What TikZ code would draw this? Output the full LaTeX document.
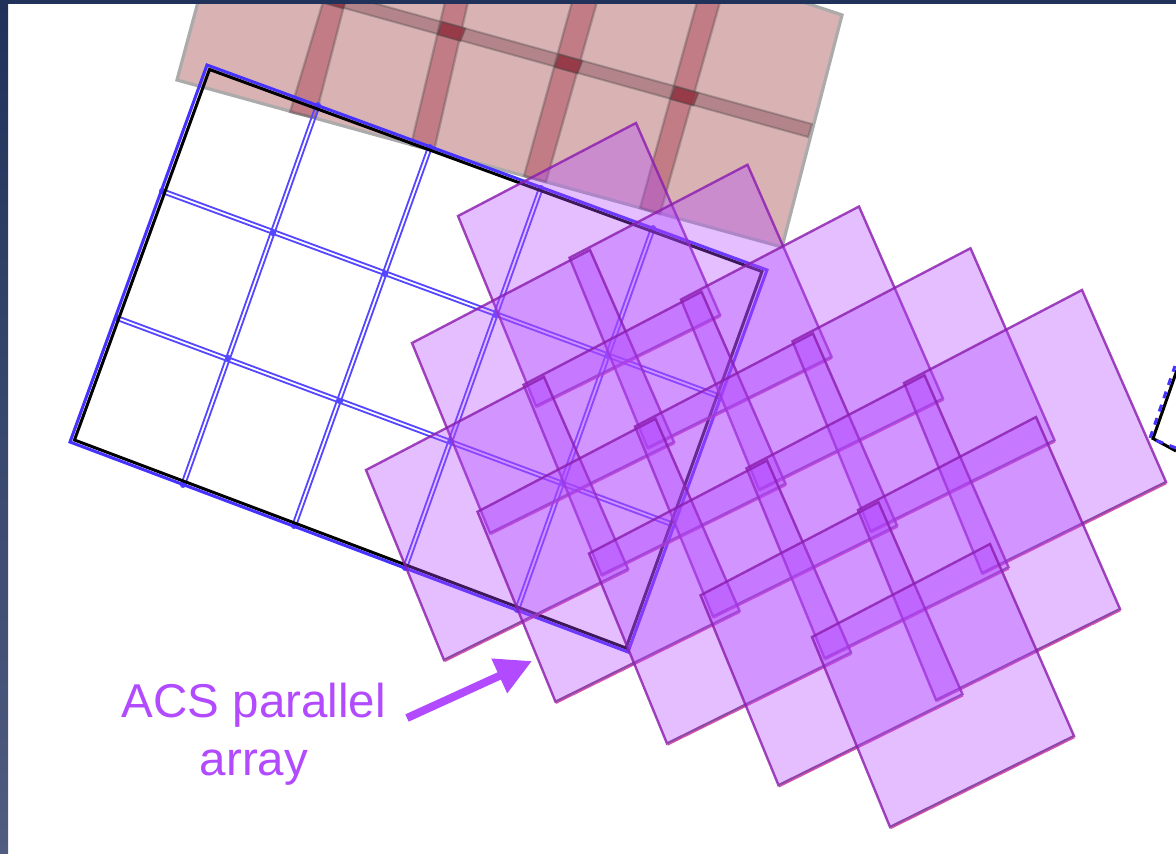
\documentclass[tikz,border=0pt]{standalone}
\usepackage{fontspec}
\setmainfont{Liberation Sans}
\usetikzlibrary{arrows.meta}
\definecolor{navy}{RGB}{32,50,90}
\definecolor{barlow}{RGB}{80,92,128}
\definecolor{brownbase}{RGB}{217,178,180}
\definecolor{brownedge}{RGB}{172,170,170}
\definecolor{strip}{RGB}{165,60,80}
\definecolor{crossc}{RGB}{150,50,65}
\definecolor{frameblue}{RGB}{70,50,255}
\definecolor{gridblue}{RGB}{85,70,255}
\definecolor{tilefill}{RGB}{178,70,255}
\definecolor{tileedge}{RGB}{140,30,175}
\definecolor{labelc}{RGB}{178,75,255}
\tikzset{
  brownrect/.style={fill=brownbase,draw=brownedge,line width=3.2pt,line join=miter},
  vstrip/.style={fill=strip,fill opacity=.45,draw=black!70,draw opacity=.34,line width=2.4pt},
  hband/.style={fill=black!40!strip,fill opacity=.32,draw=black!70,draw opacity=.36,line width=2pt},
  crossbox/.style={fill=crossc,fill opacity=.8,draw=black!70,draw opacity=.4,line width=1.8pt},
  frameb/.style={draw=frameblue,line width=3pt,line join=miter},
  framek/.style={draw=black,line width=3pt,line join=miter},
  gridl/.style={draw=gridblue,line width=1.8pt},
  griddot/.style={fill=gridblue},
  tile/.style={fill=tilefill,fill opacity=.35,draw=tileedge,draw opacity=.82,line width=2.4pt,line join=miter},
  lowgray/.style={draw=black!60,line width=1.3pt,draw opacity=.4},
  lowedge/.style={draw=magenta!55!tilefill,line width=1.1pt,draw opacity=.8},
  lbl/.style={text=labelc,align=center,inner sep=0pt,font=\fontsize{47.5}{58}\selectfont},
  callout/.style={draw=labelc,line width=8pt,-{Triangle[length=36pt,width=36pt]}}
}
\newcommand{\crossat}[2]{\path[crossbox] (#1-9,#2-9.5) -- (#1+14,#2-3) -- (#1+9,#2+9.5) -- (#1-14,#2+3) -- cycle;}
\newcommand{\vgrid}[2]{%
  \draw[gridl] ([shift={(1.8,.65)}]#1) -- ([shift={(1.8,.65)}]#2);
  \draw[gridl] ([shift={(-1.8,-.65)}]#1) -- ([shift={(-1.8,-.65)}]#2);}
\newcommand{\hgrid}[2]{%
  \draw[gridl] ([shift={(-.65,1.8)}]#1) -- ([shift={(-.65,1.8)}]#2);
  \draw[gridl] ([shift={(.65,-1.8)}]#1) -- ([shift={(.65,-1.8)}]#2);}
\begin{document}
\begin{tikzpicture}[x=1pt,y=-1pt]
\clip (0,0) rectangle (1176,854);
\fill[white] (0,0) rectangle (1176,854);

% brown mosaic
\path[brownrect] (198,2) -- (177,80) -- (782,247) -- (842,15) -- (803,2) -- cycle;
\path[vstrip] (290,112) -- (315,118) -- (345,2) -- (323,2) -- cycle;
\path[vstrip] (411,145) -- (434,151) -- (468,2) -- (445,2) -- cycle;
\path[vstrip] (524,176) -- (546,182) -- (597,2) -- (572,2) -- cycle;
\path[vstrip] (640,208) -- (660,214) -- (720,2) -- (697,2) -- cycle;
\path[hband] (330,-9) -- (812,124) -- (808,137) -- (326,3) -- cycle;
\crossat{334}{-1}
\crossat{451.5}{31.5}
\crossat{568.5}{64}
\crossat{684.5}{96}

% frame with its grid
\coordinate (f1) at (207,65);
\coordinate (f2) at (767,270);
\coordinate (f3) at (628,652);
\coordinate (f4) at (70,442);
\coordinate (c1t) at (318,105);  \coordinate (c1b) at (183,485);
\coordinate (c2t) at (430,147);  \coordinate (c2b) at (294,526);
\coordinate (c3t) at (541,188);  \coordinate (c3b) at (405,568);
\coordinate (c4t) at (653,228);  \coordinate (c4b) at (517,610);
\coordinate (r1l) at (162,191);  \coordinate (r1r) at (721,397);
\coordinate (r2l) at (117,318);  \coordinate (r2r) at (674,525);
\vgrid{c1t}{c1b} \vgrid{c2t}{c2b} \vgrid{c3t}{c3b} \vgrid{c4t}{c4b}
\hgrid{r1l}{r1r} \hgrid{r2l}{r2r}
\foreach \p in {c1t,c2t,c3t,c4t,r1l,r2l,c1b,c2b,c3b,c4b}{\fill[griddot] (\p) circle (3);}
\foreach \q in {(273,233),(385,274),(496,315),(608,356),(228,358),(340,401),(451,441),(563,483)}{\fill[griddot] \q circle (3.2);}
\draw[framek] (209.5,69.5) -- (762,271.5) -- (626,648) -- (74.5,440) -- cycle;
\draw[frameb] (f1) -- (f2) -- (f3) -- (f4) -- cycle;

% neighbouring frame at the right edge
\draw[framek] (1176,451) -- (1153,438.5) -- (1177,370);
\draw[frameb,dash pattern=on 7pt off 7pt] (1176,448) -- (1150,438) -- (1175,366);

% ACS parallel array: 5 x 3 tiles
\foreach \j in {0,1,2}{
  \foreach \i in {0,...,4}{
    \pgfmathsetmacro{\tx}{636+111.5*\i-46*\j}
    \pgfmathsetmacro{\ty}{123+41.75*\i+127*\j}
    \path[tile] (\tx,\ty) -- ++(-178,93) -- ++(78,190) -- (\tx+84,\ty+192) -- cycle;
    \draw[lowgray] (\tx-100,\ty+283) -- (\tx+84,\ty+192);
    \draw[lowedge] (\tx-99.4,\ty+284.6) -- (\tx+84.6,\ty+193.6);
  }
}

% top and left window bars
\fill[navy] (0,0) rectangle (1176,4);
\shade[top color=navy,bottom color=barlow] (0,0) rectangle (8,854);

% label
\node[lbl] (acs) at (254,734.5) {ACS parallel\\array};
\coordinate (tipstart) at (407,718);
\coordinate (tipend) at (532,661);
\draw[callout] (tipstart) -- (tipend);
\end{tikzpicture}
\end{document}
